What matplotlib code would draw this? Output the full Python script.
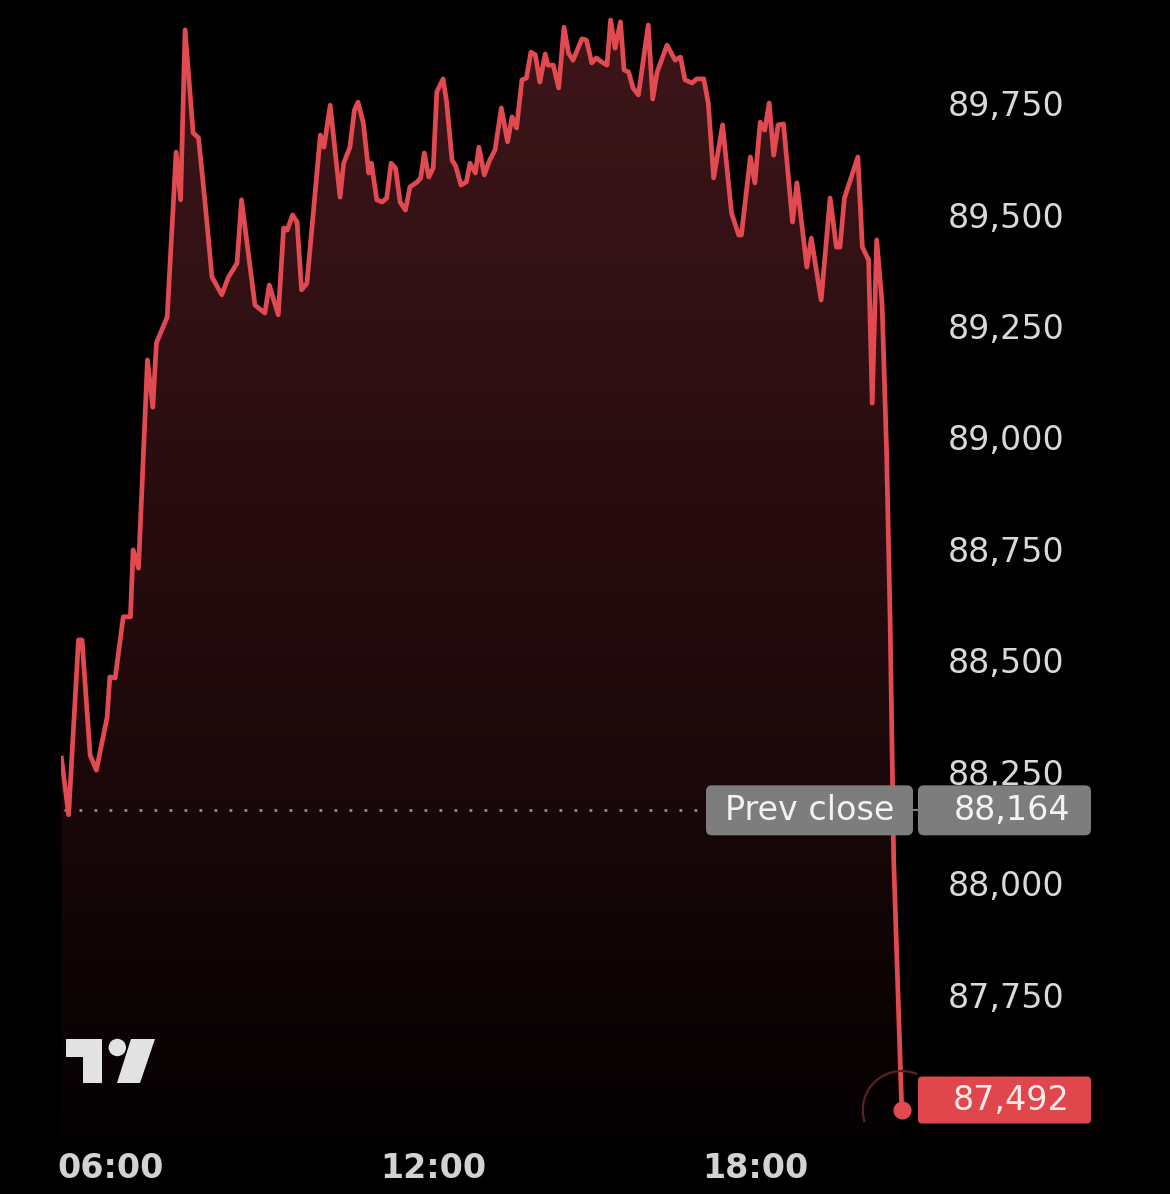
import numpy as np
import matplotlib.pyplot as plt
from matplotlib.patches import FancyBboxPatch, Polygon, Circle, Arc
from matplotlib.colors import LinearSegmentedColormap
from matplotlib.ticker import FuncFormatter

# minutes since midnight / price
times = [305, 313, 324, 328, 337, 344, 356, 359, 365, 374,
         382, 385, 391, 401, 407, 411, 423, 433, 438, 443,
         452, 458, 465, 473, 484, 491, 501, 506, 521, 532,
         537, 547, 553, 557, 563, 568, 573, 579, 594, 598,
         605, 616, 620, 627, 632, 636, 642, 648, 651, 657,
         663, 668, 673, 678, 683, 689, 694, 702, 706, 710,
         715, 720, 724, 731, 735, 741, 745, 751, 757, 761,
         765, 767, 771, 777, 783, 789, 796, 803, 808, 813,
         819, 824, 829, 834, 839, 845, 848, 854, 860, 866,
         871, 876, 886, 891, 897, 902, 908, 914, 918, 923,
         929, 933, 938, 943, 949, 960, 965, 970, 981, 990,
         996, 1001, 1009, 1014, 1022, 1027, 1033, 1043, 1053, 1061,
         1064, 1074, 1079, 1085, 1090, 1095, 1100, 1105, 1111, 1121,
         1126, 1137, 1142, 1153, 1163, 1170, 1174, 1179, 1194, 1199,
         1206, 1210, 1215, 1221, 1226, 1230, 1234, 1243]
prices = [88281, 88154, 88546, 88546, 88288, 88254, 88373, 88463, 88461, 88598,
          88598, 88748, 88707, 89174, 89068, 89212, 89270, 89640, 89533, 89914,
          89683, 89672, 89533, 89360, 89320, 89358, 89391, 89533, 89297, 89279,
          89342, 89275, 89470, 89465, 89499, 89483, 89331, 89346, 89678, 89651,
          89745, 89539, 89615, 89651, 89734, 89752, 89705, 89593, 89615, 89533,
          89528, 89537, 89615, 89604, 89528, 89510, 89562, 89573, 89582, 89638,
          89584, 89604, 89775, 89804, 89752, 89622, 89609, 89566, 89573, 89615,
          89600, 89593, 89651, 89589, 89622, 89645, 89739, 89663, 89719, 89694,
          89802, 89806, 89864, 89858, 89797, 89860, 89835, 89835, 89784, 89920,
          89862, 89846, 89894, 89891, 89840, 89851, 89842, 89835, 89936, 89873,
          89932, 89824, 89820, 89784, 89768, 89925, 89759, 89820, 89880, 89846,
          89853, 89802, 89795, 89804, 89804, 89750, 89582, 89701, 89503, 89454,
          89454, 89629, 89571, 89707, 89689, 89750, 89633, 89701, 89703, 89483,
          89571, 89382, 89447, 89308, 89537, 89427, 89427, 89537, 89629, 89427,
          89398, 89077, 89443, 89302, 88972, 88591, 88053, 87492]
prev_close = 88164

y_ticks = [87750, 88000, 88250, 88500, 88750, 89000, 89250, 89500, 89750]
x_ticks = [360, 720, 1080]
x_labels = ['06:00', '12:00', '18:00']

RED = '#e24a51'
W, H = 1170, 1194
x0, x1 = 304.5, 1260
y0, y1 = 87436, 89981
FS = 24

fig = plt.figure(figsize=(W / 100, H / 100), dpi=100, facecolor='black')
ax = fig.add_axes([61 / W, 1 - 1135 / H, 856 / W, 1135 / H])
ax.set_facecolor('black')
ax.set_xlim(x0, x1)
ax.set_ylim(y0, y1)

# gradient area under the line
cmap = LinearSegmentedColormap.from_list('area', ['#050102', '#1c080a', '#2e0f12', '#3e161a'])
grad = np.linspace(1, 0, 256).reshape(-1, 1)
im = ax.imshow(grad, extent=[x0, x1, y0, y1], aspect='auto', cmap=cmap,
               vmin=0, vmax=1, origin='upper', zorder=1)
area = ax.fill_between(times, prices, y0, facecolor='none', edgecolor='none')
im.set_clip_path(area.get_paths()[0], transform=ax.transData)

ax.plot(times, prices, color=RED, lw=3.4, solid_joinstyle='round', zorder=3)
ax.plot(times[-1], prices[-1], 'o', ms=12, color=RED, zorder=4)

# previous close dotted line
ax.axhline(prev_close, xmin=0.004, xmax=0.752, color='#8e8e8e', lw=2,
           linestyle=(0, (1, 4.4)), zorder=2)

ax.yaxis.tick_right()
ax.set_yticks(y_ticks)
ax.yaxis.set_major_formatter(FuncFormatter(lambda v, p: f'{v:,.0f}'))
ax.tick_params(axis='y', length=0, pad=22.3, labelsize=FS, labelcolor='#d9d9d9')
ax.set_xticks(x_ticks, x_labels)
ax.tick_params(axis='x', length=0, pad=12, labelsize=FS, labelcolor='#d2d2d2')
for lbl in ax.get_xticklabels():
    lbl.set_fontweight('bold')
for s in ax.spines.values():
    s.set_visible(False)

# overlay in pixel coordinates for the labels and logo
ov = fig.add_axes([0, 0, 1, 1], zorder=5)
ov.set_xlim(0, W)
ov.set_ylim(H, 0)
ov.axis('off')
ov.patch.set_alpha(0)


def px(x, y):
    d = ax.transData.transform((x, y))
    return d[0], H - d[1]


_, yp = px(times[0], prev_close)
ov.add_patch(FancyBboxPatch((706, yp - 25), 207, 50, boxstyle='round,pad=0,rounding_size=6',
                            fc='#7d7d7d', ec='none'))
ov.text(809.5, yp, 'Prev close', ha='center', va='center', fontsize=FS, color='#f2f2f2')
ov.plot([912, 919], [yp, yp], color='#7d7d7d', lw=1.5)
ov.add_patch(FancyBboxPatch((918, yp - 25), 173, 50, boxstyle='round,pad=0,rounding_size=6',
                            fc='#7d7d7d', ec='none'))
ov.text(1070, yp, f'{prev_close:,}', ha='right', va='center', fontsize=FS, color='#f2f2f2')

xl, yl = px(times[-1], prices[-1])
ov.add_patch(Arc((xl, yl), 78, 78, theta1=162, theta2=293, color='#5a2226', lw=1.6))
ov.add_patch(FancyBboxPatch((918, yl - 33.5), 173, 47, boxstyle='round,pad=0,rounding_size=4',
                            fc='#e0474c', ec='none'))
ov.text(1070, yl - 10, f'{prices[-1]:,}', ha='right', va='center', fontsize=FS, color='#fbeaea')

# TradingView logo
logo = '#e2e2e2'
ov.add_patch(Polygon([(66, 1039), (101.7, 1039), (101.7, 1083), (83.3, 1083),
                      (83.3, 1057), (66, 1057)], closed=True, fc=logo, ec='none'))
ov.add_patch(Circle((117.3, 1047.5), 8.7, fc=logo, ec='none'))
ov.add_patch(Polygon([(131, 1039), (155, 1039), (140, 1083), (117, 1083)],
                     closed=True, fc=logo, ec='none'))

fig.savefig('out.png', dpi=100, facecolor='black')
